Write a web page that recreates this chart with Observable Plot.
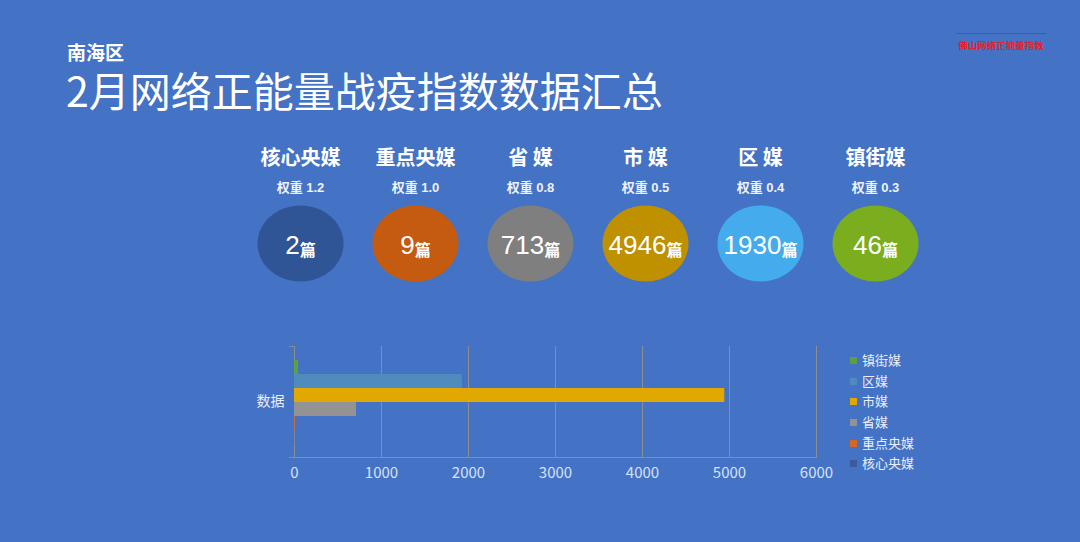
<!DOCTYPE html>
<html>
<head>
<meta charset="utf-8">
<script src="https://cdn.jsdelivr.net/npm/d3@7"></script>
<script src="https://cdn.jsdelivr.net/npm/@observablehq/plot@0.6"></script>
<style>
  html, body { margin:0; padding:0; }
  body { width:1080px; height:542px; background:#4472C4; position:relative; overflow:hidden;
         font-family:"Noto Sans CJK SC","Noto Sans",sans-serif; color:#fff; }
  #sub { position:absolute; left:67px; top:42px; font-size:19px; line-height:20px; font-weight:700; }
  #title { position:absolute; left:66px; top:68px; font-size:41px; line-height:42px; font-weight:400; white-space:nowrap; }
  #brand { position:absolute; left:956px; top:33px; width:90px; border-top:1px solid #d9262c; text-align:center;
           font-size:9.5px; line-height:12px; color:#e8202a; padding-top:5px; font-weight:700; }
  #topchart { position:absolute; left:241px; top:140px; }
  #bars { position:absolute; left:240px; top:330px; }
  #legend { position:absolute; left:850px; top:350px; font-size:13px; color:#e8eef9; }
  #legend .it { height:20.7px; line-height:20.7px; display:flex; align-items:center; }
  #legend .sw { width:7px; height:7px; margin-right:5px; }
</style>
</head>
<body>
<div id="sub">南海区</div>
<div id="title">2月网络正能量战疫指数数据汇总</div>
<div id="brand">佛山网络正能量指数</div>
<div id="topchart"></div>
<div id="bars"></div>
<div id="legend"></div>
<script>
const categories = ["核心央媒","重点央媒","省媒","市媒","区媒","镇街媒"];
const displayNames = ["核心央媒","重点央媒","省 媒","市 媒","区 媒","镇街媒"];
const weights = ["1.2","1.0","0.8","0.5","0.4","0.3"];
const counts = [2, 9, 713, 4946, 1930, 46];
const circleColors = ["#2f5597","#c55a11","#7f7f7f","#bf9000","#44acec","#7aae1e"];
const barColors = ["#3a5c9e","#d2682a","#939393","#e0a800","#4f8bbd","#5f9e3e"];
const groupLabel = "数据";
const xTicks = [0,1000,2000,3000,4000,5000,6000];

const rows = categories.map((c,i) => ({category:c, name:displayNames[i], weight:"权重 " + weights[i], count:counts[i]}));

// ellipse symbol
const ellipse = {
  draw(ctx, size) {
    const r = Math.sqrt(size / Math.PI);
    const rx = r * 43 / 38, ry = r, k = 0.5523;
    ctx.moveTo(rx, 0);
    ctx.bezierCurveTo(rx, ry*k, rx*k, ry, 0, ry);
    ctx.bezierCurveTo(-rx*k, ry, -rx, ry*k, -rx, 0);
    ctx.bezierCurveTo(-rx, -ry*k, -rx*k, -ry, 0, -ry);
    ctx.bezierCurveTo(rx*k, -ry, rx, -ry*k, rx, 0);
    ctx.closePath();
  }
};

const digitFont = "Liberation Sans, Noto Sans CJK SC, sans-serif";
const topChart = Plot.plot({
  width: 692, height: 150,
  margin: 0,
  style: {background:"transparent", fontFamily:"Noto Sans CJK SC, sans-serif", overflow:"visible"},
  x: {type:"point", domain: categories, padding: 0.5, axis: null},
  color: {domain: categories, range: circleColors},
  marks: [
    Plot.text(rows, {x:"category", text:"name", frameAnchor:"top", lineAnchor:"middle", dy:18, fontSize:20, fontWeight:700, fill:"#ffffff"}),
    Plot.text(rows, {x:"category", text:"weight", frameAnchor:"top", lineAnchor:"middle", dy:47, fontSize:13, fontWeight:700, fontFamily:digitFont, fill:"#eef2fa"}),
    Plot.dot(rows, {x:"category", frameAnchor:"top", dy:103, r:38, symbol:ellipse, fill:"category", stroke:null}),
    Plot.text(rows, {x:"category", text: d => String(d.count), frameAnchor:"top", lineAnchor:"middle", dy:105, fontSize:26, fontWeight:400, fontFamily:digitFont, fill:"#ffffff"})
  ]
});
document.getElementById("topchart").appendChild(topChart);
// append the small 篇 unit to each count
d3.select(topChart).selectAll("text").filter(function(){ return counts.map(String).includes(this.textContent); })
  .each(function(){
    const t = d3.select(this); const v = this.textContent; t.text("");
    t.append("tspan").text(v);
    t.append("tspan").attr("font-size", 16).attr("font-weight", 700).attr("font-family", "Noto Sans CJK SC").attr("dy", "0.15em").text("篇");
  });

const series = categories.slice().reverse();
const bars = Plot.plot({
  width: 600, height: 157,
  marginLeft: 54, marginRight: 24, marginTop: 16, marginBottom: 30,
  style: {background:"transparent", fontFamily:"Noto Sans CJK SC, sans-serif", overflow:"visible"},
  x: {domain:[0,6000], ticks: xTicks, label: null},
  y: {domain: series, paddingInner: 0, paddingOuter: 0.75, axis: null},
  color: {domain: categories, range: barColors},
  marks: [
    Plot.gridX(xTicks, {stroke:"#8d8d94", strokeOpacity:1, strokeWidth:1}),
    Plot.frame({anchor:"bottom", stroke:"#8d8d94"}),
    Plot.barX(rows, {x:"count", y:"category", fill:"category", inset:0}),
    Plot.axisX(xTicks, {tickSize:0, tickPadding:10, fontSize:15, fill:"#d8e2f6", label:null, tickFormat: d => String(d)}),
    Plot.text([groupLabel], {frameAnchor:"left", text: d => d, textAnchor:"end", dx:-10, fontSize:14, fill:"#e8eef9"})
  ]
});
document.getElementById("bars").appendChild(bars);
// small boundary ticks on the category axis
{
  const sx = bars.scale("x");
  const x0 = sx.apply(0);
  const g = d3.select(bars).append("g").attr("stroke", "#8d8d94");
  [16, 157 - 30].forEach(y => g.append("line").attr("x1", x0 - 5).attr("x2", x0).attr("y1", y + 0.5).attr("y2", y + 0.5));
}

const legend = d3.select("#legend");
series.forEach(s => {
  const i = categories.indexOf(s);
  const it = legend.append("div").attr("class","it");
  it.append("div").attr("class","sw").style("background", barColors[i]);
  it.append("span").text(s);
});
</script>
</body>
</html>
